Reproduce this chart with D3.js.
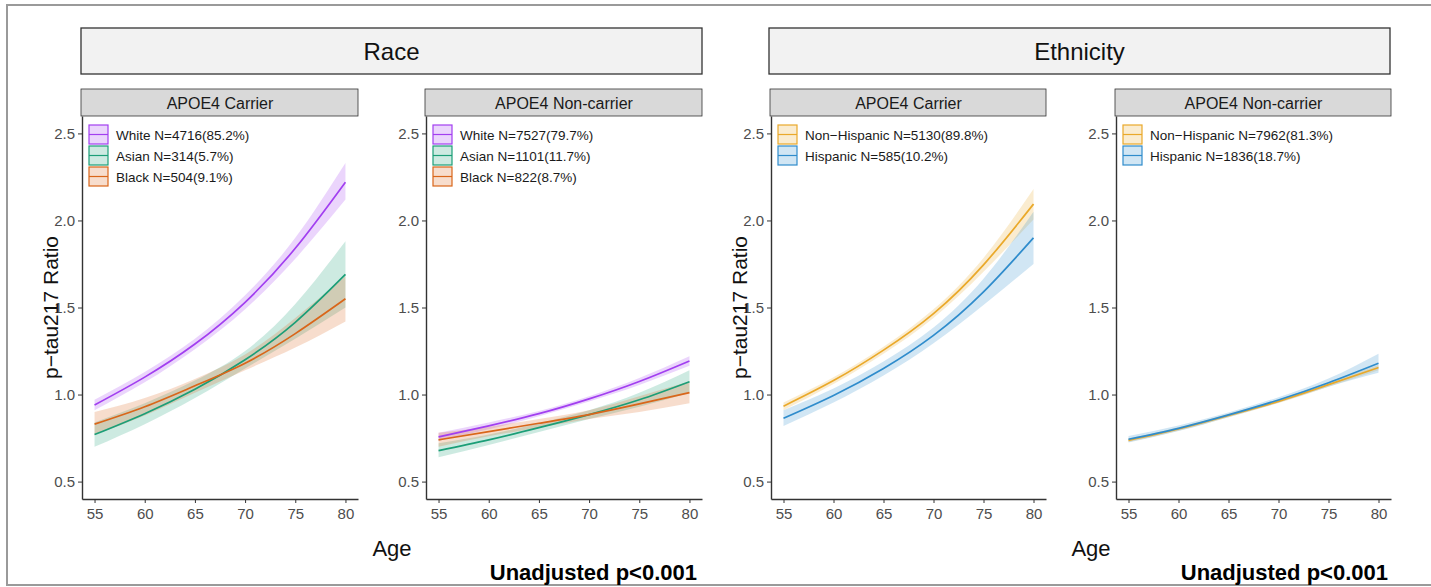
<!DOCTYPE html>
<html>
<head>
<meta charset="utf-8">
<script src="https://cdn.jsdelivr.net/npm/d3@7"></script>
<style>
  body { margin: 0; background: #fff; }
  svg { font-family: "Liberation Sans", Arial, sans-serif; }
</style>
</head>
<body>
<svg id="canvas" width="1431" height="587"></svg>
<script>
const ages = [55, 60, 65, 70, 75, 80];
const xTicks = [55, 60, 65, 70, 75, 80];
const yTicks = [0.5, 1.0, 1.5, 2.0, 2.5];

const facetTitles = ["Race", "Ethnicity"];
const panelTitles = ["APOE4 Carrier", "APOE4 Non-carrier", "APOE4 Carrier", "APOE4 Non-carrier"];

// race, carriers
const whiteCarrierFit = [0.94, 1.10, 1.29, 1.53, 1.84, 2.22];
const whiteCarrierLo = [0.91, 1.07, 1.26, 1.49, 1.78, 2.12];
const whiteCarrierHi = [0.97, 1.13, 1.32, 1.57, 1.90, 2.33];
const asianCarrierFit = [0.77, 0.89, 1.03, 1.20, 1.415, 1.69];
const asianCarrierLo = [0.70, 0.83, 0.98, 1.15, 1.32, 1.50];
const asianCarrierHi = [0.84, 0.95, 1.08, 1.25, 1.52, 1.88];
const blackCarrierFit = [0.83, 0.93, 1.05, 1.18, 1.35, 1.55];
const blackCarrierLo = [0.77, 0.88, 1.01, 1.14, 1.27, 1.42];
const blackCarrierHi = [0.90, 0.98, 1.09, 1.23, 1.44, 1.68];

// race, non-carriers
const whiteNonFit = [0.757, 0.82, 0.89, 0.975, 1.075, 1.193];
const whiteNonLo = [0.735, 0.80, 0.875, 0.96, 1.055, 1.165];
const whiteNonHi = [0.78, 0.84, 0.905, 0.99, 1.095, 1.22];
const asianNonFit = [0.678, 0.74, 0.81, 0.885, 0.97, 1.074];
const asianNonLo = [0.64, 0.71, 0.785, 0.86, 0.93, 1.01];
const asianNonHi = [0.72, 0.77, 0.835, 0.91, 1.01, 1.14];
const blackNonFit = [0.74, 0.787, 0.835, 0.885, 0.946, 1.011];
const blackNonLo = [0.70, 0.76, 0.81, 0.86, 0.90, 0.95];
const blackNonHi = [0.78, 0.815, 0.86, 0.91, 0.99, 1.075];

// ethnicity, carriers
const nhCarrierFit = [0.933, 1.08, 1.255, 1.465, 1.745, 2.094];
const nhCarrierLo = [0.91, 1.06, 1.235, 1.44, 1.705, 2.005];
const nhCarrierHi = [0.955, 1.10, 1.275, 1.49, 1.785, 2.18];
const hCarrierFit = [0.864, 0.995, 1.15, 1.34, 1.59, 1.90];
const hCarrierLo = [0.82, 0.955, 1.11, 1.295, 1.515, 1.75];
const hCarrierHi = [0.91, 1.035, 1.19, 1.385, 1.665, 2.05];

// ethnicity, non-carriers
const nhNonFit = [0.737, 0.802, 0.88, 0.961, 1.057, 1.155];
const nhNonLo = [0.727, 0.792, 0.87, 0.951, 1.045, 1.14];
const nhNonHi = [0.747, 0.812, 0.89, 0.971, 1.069, 1.17];
const hNonFit = [0.743, 0.806, 0.883, 0.969, 1.068, 1.18];
const hNonLo = [0.725, 0.79, 0.87, 0.953, 1.045, 1.125];
const hNonHi = [0.762, 0.822, 0.897, 0.985, 1.092, 1.235];

const colors = { White: "#a23ff0", Asian: "#1b9e77", Black: "#d9661a", NH: "#eaa92a", H: "#2f8ccc" };

const panels = [
  { left: 82, right: 358, series: [
    { key: "White", label: "White N=4716(85.2%)", fit: whiteCarrierFit, lo: whiteCarrierLo, hi: whiteCarrierHi },
    { key: "Asian", label: "Asian N=314(5.7%)", fit: asianCarrierFit, lo: asianCarrierLo, hi: asianCarrierHi },
    { key: "Black", label: "Black N=504(9.1%)", fit: blackCarrierFit, lo: blackCarrierLo, hi: blackCarrierHi }] },
  { left: 426, right: 702, series: [
    { key: "White", label: "White N=7527(79.7%)", fit: whiteNonFit, lo: whiteNonLo, hi: whiteNonHi },
    { key: "Asian", label: "Asian N=1101(11.7%)", fit: asianNonFit, lo: asianNonLo, hi: asianNonHi },
    { key: "Black", label: "Black N=822(8.7%)", fit: blackNonFit, lo: blackNonLo, hi: blackNonHi }] },
  { left: 771, right: 1046, series: [
    { key: "NH", label: "Non\u2212Hispanic N=5130(89.8%)", fit: nhCarrierFit, lo: nhCarrierLo, hi: nhCarrierHi },
    { key: "H", label: "Hispanic N=585(10.2%)", fit: hCarrierFit, lo: hCarrierLo, hi: hCarrierHi }] },
  { left: 1116, right: 1391, series: [
    { key: "NH", label: "Non\u2212Hispanic N=7962(81.3%)", fit: nhNonFit, lo: nhNonLo, hi: nhNonHi },
    { key: "H", label: "Hispanic N=1836(18.7%)", fit: hNonFit, lo: hNonLo, hi: hNonHi }] }
];

const svg = d3.select("#canvas");
const plotTop = 116, plotBottom = 499;

// outer frame
svg.append("rect").attr("x", 7).attr("y", 5).attr("width", 1440).attr("height", 580)
  .attr("fill", "none").attr("stroke", "#9a9a9a").attr("stroke-width", 2);

// big facet strips
[[81, 702], [769, 1390]].forEach((ext, i) => {
  svg.append("rect").attr("x", ext[0]).attr("y", 28).attr("width", ext[1] - ext[0]).attr("height", 46)
    .attr("fill", "#f2f2f2").attr("stroke", "#333").attr("stroke-width", 1.3);
  svg.append("text").attr("x", (ext[0] + ext[1]) / 2).attr("y", 60).attr("text-anchor", "middle")
    .attr("font-size", 24).attr("fill", "#111").text(facetTitles[i]);
});

const y = d3.scaleLinear().domain([0.4, 2.6]).range([plotBottom, plotTop]);

panels.forEach((p, i) => {
  const x = d3.scaleLinear().domain([53.75, 81.25]).range([p.left, p.right]);
  const g = svg.append("g");

  // strip
  g.append("rect").attr("x", p.left - 1).attr("y", 89).attr("width", p.right - p.left + 1).attr("height", 27)
    .attr("fill", "#d9d9d9").attr("stroke", "#333").attr("stroke-width", 0.8);
  g.append("text").attr("x", (p.left + p.right) / 2).attr("y", 108.5).attr("text-anchor", "middle")
    .attr("font-size", 16).attr("fill", "#1a1a1a").text(panelTitles[i]);

  const area = d3.area().x((d, j) => x(ages[j])).y0((d, j) => y(d[0])).y1((d, j) => y(d[1]))
    .curve(d3.curveNatural);
  const line = d3.line().x((d, j) => x(ages[j])).y(d => y(d)).curve(d3.curveNatural);

  p.series.forEach(s => {
    g.append("path").datum(s.lo.map((v, j) => [v, s.hi[j]]))
      .attr("d", area).attr("fill", colors[s.key]).attr("fill-opacity", 0.22);
  });
  p.series.forEach(s => {
    g.append("path").datum(s.fit).attr("d", line).attr("fill", "none")
      .attr("stroke", colors[s.key]).attr("stroke-width", 1.7);
  });

  // axes
  const ya = g.append("g").attr("transform", `translate(${p.left},0)`)
    .call(d3.axisLeft(y).tickValues(yTicks).tickFormat(d3.format(".1f")).tickSize(4).tickSizeOuter(0));
  const xa = g.append("g").attr("transform", `translate(0,${plotBottom})`)
    .call(d3.axisBottom(x).tickValues(xTicks).tickSize(4).tickSizeOuter(0));
  [ya, xa].forEach(a => {
    a.select(".domain").attr("stroke", "#333").attr("stroke-width", 1.4);
    a.selectAll(".tick line").attr("stroke", "#333").attr("stroke-width", 1);
    a.selectAll(".tick text").attr("fill", "#4d4d4d").attr("font-size", 15)
      .attr("font-family", "Liberation Sans, Arial, sans-serif");
  });
  ya.selectAll(".tick text").attr("x", -7);
  xa.selectAll(".tick text").attr("y", 9);

  // legend
  p.series.forEach((s, j) => {
    const ly = 125 + j * 21;
    g.append("rect").attr("x", p.left + 7).attr("y", ly).attr("width", 19).attr("height", 19)
      .attr("fill", colors[s.key]).attr("fill-opacity", 0.22)
      .attr("stroke", colors[s.key]).attr("stroke-width", 1.2);
    g.append("line").attr("x1", p.left + 7).attr("x2", p.left + 26)
      .attr("y1", ly + 9.5).attr("y2", ly + 9.5).attr("stroke", colors[s.key]).attr("stroke-width", 1.2);
    g.append("text").attr("x", p.left + 34).attr("y", ly + 14.5).attr("font-size", 13.5)
      .attr("fill", "#1a1a1a").text(s.label);
  });

  if (i % 2 === 0) {
    svg.append("text").attr("transform", `translate(${p.left - 24},${(plotTop + plotBottom) / 2}) rotate(-90)`)
      .attr("text-anchor", "middle").attr("font-size", 21).attr("fill", "#111").text("p\u2212tau217 Ratio");
  }
});

// x titles and p-values
[392, 1091].forEach(cx => {
  svg.append("text").attr("x", cx).attr("y", 556).attr("text-anchor", "middle")
    .attr("font-size", 22).attr("fill", "#111").text("Age");
});
[697, 1388].forEach(rx => {
  svg.append("text").attr("x", rx).attr("y", 580).attr("text-anchor", "end")
    .attr("font-size", 22).attr("font-weight", "bold").attr("fill", "#000").text("Unadjusted p<0.001");
});
</script>
</body>
</html>
